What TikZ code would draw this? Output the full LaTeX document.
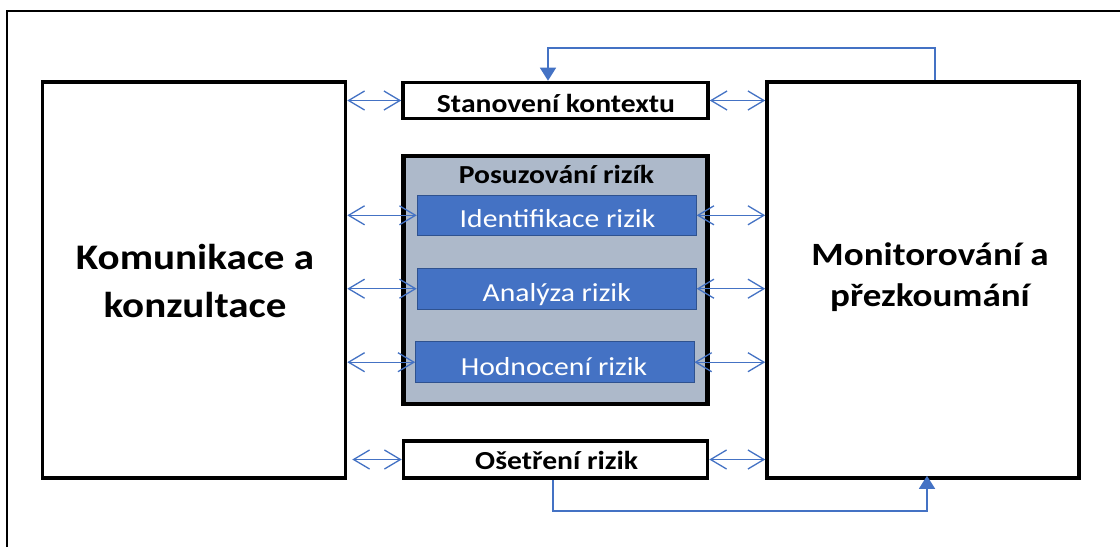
\documentclass[tikz,border=0pt]{standalone}
\usepackage{fontspec}
\setmainfont{Carlito}[FakeStretch=1.14]
\usetikzlibrary{arrows.meta}
\definecolor{accent}{HTML}{4472C4}
\definecolor{accentdark}{HTML}{2F528F}
\definecolor{panel}{HTML}{ADB9CA}
\tikzset{
  bigbox/.style={draw=black, line width=3.6pt, fill=white, inner sep=0pt},
  stagebox/.style={draw=black, line width=3.6pt, fill=white, inner sep=0pt},
  panelbox/.style={draw=black, line width=4.2pt, fill=panel, inner sep=0pt},
  subbox/.style={draw=accentdark, line width=0.9pt, fill=accent, inner sep=0pt},
  bigtext/.style={align=center, inner sep=0pt},
  stagetext/.style={font=\bfseries\fontsize{26}{30}\selectfont, inner sep=0pt, anchor=base},
  subtext/.style={font=\fontsize{26}{30}\selectfont, text=white, inner sep=0pt, anchor=base},
  link/.style={draw=accent, line width=1.3pt,
    {Straight Barb[length=16pt,width=19pt]}-{Straight Barb[length=16pt,width=19pt]}},
  loop/.style={draw=accent, line width=1.5pt, -{Triangle[length=13pt,width=16pt]}}
}
\begin{document}
\begin{tikzpicture}[x=1pt, y=-1pt]
\useasboundingbox (0,0) rectangle (1120,547);
\fill[white] (0,0) rectangle (1120,547);

% open outer frame
\draw[line width=2pt] (7,547) -- (7,11) -- (1120,11);

% side boxes
\node[bigbox, minimum width=303pt, minimum height=396pt] (K) at (194,280) {};
\node[bigbox, minimum width=312pt, minimum height=396pt] (M) at (923,280) {};
\node[bigtext, font=\bfseries\fontsize{36}{48}\selectfont] (Ktxt) at (195,281) {Komunikace a\\konzultace};
\node[bigtext, font=\bfseries\fontsize{32.5}{41}\selectfont] (Mtxt) at (930,277.5) {Monitorování a\\přezkoumání};

% central stages
\node[stagebox, minimum width=305pt, minimum height=36pt] (S) at (555.5,100.5) {};
\node[stagetext] (Stxt) at (556,112) {Stanovení kontextu};

\node[panelbox, minimum width=304pt, minimum height=248pt] (P) at (555.5,280) {};
\node[stagetext] (Ptxt) at (556.5,183) {Posuzování rizík};

\node[subbox, minimum width=279pt, minimum height=40.7pt] (I) at (556.7,215.3) {};
\node[subbox, minimum width=279pt, minimum height=40.7pt] (A) at (556.7,288.7) {};
\node[subbox, minimum width=278.3pt, minimum height=41pt] (H) at (554.8,362.2) {};
\node[subtext] (Itxt) at (557.5,227) {Identifikace rizik};
\node[subtext] (Atxt) at (556.7,301) {Analýza rizik};
\node[subtext] (Htxt) at (554,375) {Hodnocení rizik};

\node[stagebox, minimum width=304pt, minimum height=37.5pt] (O) at (555.5,459.5) {};
\node[stagetext] (Otxt) at (556.7,469) {Ošetření rizik};

% two-way links
\draw[link] (K.east |- S.west) -- (S.west);
\draw[link] (S.east) -- (S.east -| M.west);
\draw[link] (K.east |- I.west) -- (I.west);
\draw[link] (I.east) -- (I.east -| M.west);
\draw[link] (K.east |- A.west) -- (A.west);
\draw[link] (A.east) -- (A.east -| M.west);
\draw[link] (K.east |- H.west) -- (H.west);
\draw[link] (H.east) -- (H.east -| M.west);
\draw[link] ([xshift=5pt]K.east |- O.west) -- (O.west);
\draw[link] (O.east) -- (O.east -| M.west);

% feedback loops
\coordinate (topR) at (935,48);
\coordinate (botL) at (553,511);
\draw[loop] (M.north -| topR) -- (topR) -| (S.north -| 548,0);
\draw[loop] (O.south -| botL) -- (botL) -| ([yshift=4pt]M.south -| 927,0);
\end{tikzpicture}
\end{document}
